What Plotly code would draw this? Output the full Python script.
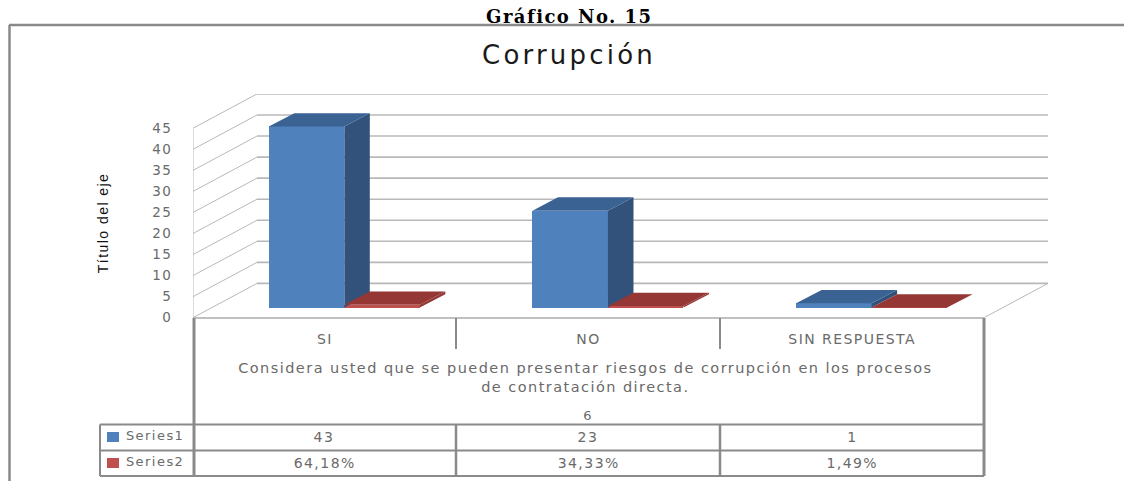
import plotly.graph_objects as go

W, H = 1124, 481

# ---- data ----
categories = ["SI", "NO", "SIN RESPUESTA"]
series1 = [43, 23, 1]
series2 = [0.6418, 0.3433, 0.0149]
series_names = ["Series1", "Series2"]
y_ticks = [0, 5, 10, 15, 20, 25, 30, 35, 40, 45]
main_title = "Corrupción"
top_title = "Gráfico No. 15"
y_title = "Título del eje"
question = "Considera usted que se pueden presentar riesgos de corrupción en los procesos<br>de contratación directa."
group_label = "6"

# ---- styles ----
BLUE, BLUE_SIDE, BLUE_TOP = "#4F81BD", "#32527B", "#3A6293"
RED, RED_SIDE, RED_TOP = "#C0504D", "#943735", "#943735"
GRID = "#B8B8B8"
FRAME = "#8A8A8A"
TXT = "#6A6A6A"
FONT = "DejaVu Sans"

# ---- geometry of the pseudo 3D scene, pixel anchors ----
PX_L, PX_R_FRONT, PX_R_BACK = 193.0, 984.0, 1048.0
PX_Y0, PX_Y_BACK45 = 317.7, 94.0
PX_PER_CAT = (PX_R_FRONT - PX_L) / 3
PX_PER_UNIT = 4.21
WALL_DX = (PX_R_BACK - PX_R_FRONT) / PX_PER_CAT
WALL_DY = 34.3 / PX_PER_UNIT
BAR_W = 75.5 / PX_PER_CAT
BAR_LEFT = (268.8 - PX_L) / PX_PER_CAT
BASE = 10.2 / PX_PER_UNIT
DEPTH_DX = 25.5 / PX_PER_CAT
DEPTH_DY = 13.3 / PX_PER_UNIT
X_MAX = 3 + WALL_DX
Y_MAX = (PX_Y0 - PX_Y_BACK45) / PX_PER_UNIT


def px(x):
    return x / W


def py(y):
    return 1 - y / H


fig = go.Figure()


def add_series(values, name, offset, front, side, top):
    lefts = [i + BAR_LEFT + offset for i in range(len(values))]
    fig.add_trace(go.Bar(
        x=[l + BAR_W / 2 for l in lefts], y=values, base=BASE, width=BAR_W,
        marker=dict(color=front, line=dict(width=0)), name=name, showlegend=False,
    ))
    for l, v in zip(lefts, values):
        r = l + BAR_W
        t = BASE + v
        fig.add_trace(go.Scatter(
            x=[r, r + DEPTH_DX, r + DEPTH_DX, r, r],
            y=[BASE, BASE + DEPTH_DY, t + DEPTH_DY, t, BASE],
            mode="none", fill="toself", fillcolor=side,
            hoverinfo="skip", showlegend=False,
        ))
        fig.add_trace(go.Scatter(
            x=[l, l + DEPTH_DX, r + DEPTH_DX, r, l],
            y=[t, t + DEPTH_DY, t + DEPTH_DY, t, t],
            mode="none", fill="toself", fillcolor=top,
            hoverinfo="skip", showlegend=False,
        ))


add_series(series1, series_names[0], 0, BLUE, BLUE_SIDE, BLUE_TOP)
add_series(series2, series_names[1], BAR_W, RED, RED_SIDE, RED_TOP)

shapes = []
# walls and gridlines, from the value axis ticks
for v in y_ticks:
    shapes.append(dict(type="line", xref="x", yref="y", layer="below", x0=0, y0=v,
                       x1=WALL_DX, y1=v + WALL_DY, line=dict(color=GRID, width=1)))
    shapes.append(dict(type="line", xref="x", yref="y", layer="below", x0=WALL_DX, y0=v + WALL_DY,
                       x1=X_MAX, y1=v + WALL_DY, line=dict(color=GRID, width=1.6)))
shapes.append(dict(type="line", xref="x", yref="y", layer="below", x0=0, y0=0, x1=0, y1=y_ticks[-1],
                   line=dict(color=GRID, width=1)))
shapes.append(dict(type="line", xref="x", yref="y", layer="below", x0=3, y0=0, x1=X_MAX, y1=WALL_DY,
                   line=dict(color=GRID, width=1)))


def pline(x0, y0, x1, y1, width=2.5, color=FRAME):
    shapes.append(dict(type="line", xref="paper", yref="paper", x0=px(x0), y0=py(y0),
                       x1=px(x1), y1=py(y1), line=dict(color=color, width=width), layer="above"))


# outer frame
pline(9, 25, W, 25, 2.5)
pline(9.5, 25, 9.5, H, 2.5)
# data table
pline(193, 318, 984, 318, 1.5, "#ABABAB")
pline(194, 318, 194, 476, 3)
pline(984, 318, 984, 476, 3)
for xv in (456, 720):
    pline(xv, 318, xv, 349, 2)
    pline(xv, 424, xv, 476, 2.5)
for yv in (424.5, 450.5, 476):
    pline(100, yv, 984, yv, 2)
pline(100, 424.5, 100, 476, 2)

# legend keys
for (y0, color) in ((432, BLUE), (458, RED)):
    shapes.append(dict(type="rect", xref="paper", yref="paper", x0=px(107), x1=px(119),
                       y0=py(y0 + 10), y1=py(y0), fillcolor=color, line=dict(width=0), layer="above"))

annotations = []


def note(x, y, text, size=13, color=TXT, family=FONT, angle=0):
    annotations.append(dict(xref="paper", yref="paper", x=px(x), y=py(y), text=text, showarrow=False,
                            xanchor="center", yanchor="middle", textangle=angle,
                            font=dict(size=size, color=color, family=family)))


note(569, 16, f"<b>{top_title}</b>", 18, "#000000", "DejaVu Serif")
note(103, 223, y_title, 14, "#111111", "Liberation Sans", -90)
note(585, 377, question, 14.5)
note(588, 415, group_label, 13)
note(155, 435, series_names[0], 13)
note(155, 461, series_names[1], 13)
cell_centres = [324.5, 588, 852]
for c, a, b in zip(cell_centres, series1, series2):
    note(c, 437, str(a), 14)
    note(c, 463, f"{b * 100:.2f}%".replace(".", ","), 14)

fig.update_layout(
    width=W, height=H, margin=dict(l=0, r=0, t=0, b=0),
    paper_bgcolor="white", plot_bgcolor="white", barmode="overlay", bargap=0,
    showlegend=False,
    title=dict(text=main_title, x=569 / W, y=py(55), xanchor="center", yanchor="middle",
               font=dict(size=26, color="#1A1A1A", family=FONT), automargin=False),
    xaxis=dict(domain=[px(PX_L), px(PX_R_BACK)], range=[0, X_MAX], showgrid=False, zeroline=False,
               showline=False, tickmode="array", tickvals=[i + 0.5 for i in range(len(categories))],
               ticktext=categories, ticks="outside", ticklen=8, tickcolor="rgba(0,0,0,0)",
               tickfont=dict(size=14, color=TXT, family=FONT), fixedrange=True, automargin=False),
    yaxis=dict(domain=[py(PX_Y0), py(PX_Y_BACK45)], range=[0, Y_MAX], showgrid=False, zeroline=False,
               showline=False, tickmode="array", tickvals=y_ticks, ticks="outside", ticklen=17,
               tickcolor="rgba(0,0,0,0)", tickfont=dict(size=13.5, color=TXT, family=FONT), fixedrange=True,
               automargin=False),
    shapes=shapes, annotations=annotations,
)

# page margin off, and the wide letter spacing of the stretched original
POST = """
document.body.style.margin = '0';
var s = document.createElement('style');
s.textContent = '.annotation-text, .xtick text, .ytick text {letter-spacing: 1.45px}'
  + ' .gtitle {letter-spacing: 3.2px}';
document.head.appendChild(s);
"""
fig.write_html("out.html", post_script=POST, config=dict(displayModeBar=False))
